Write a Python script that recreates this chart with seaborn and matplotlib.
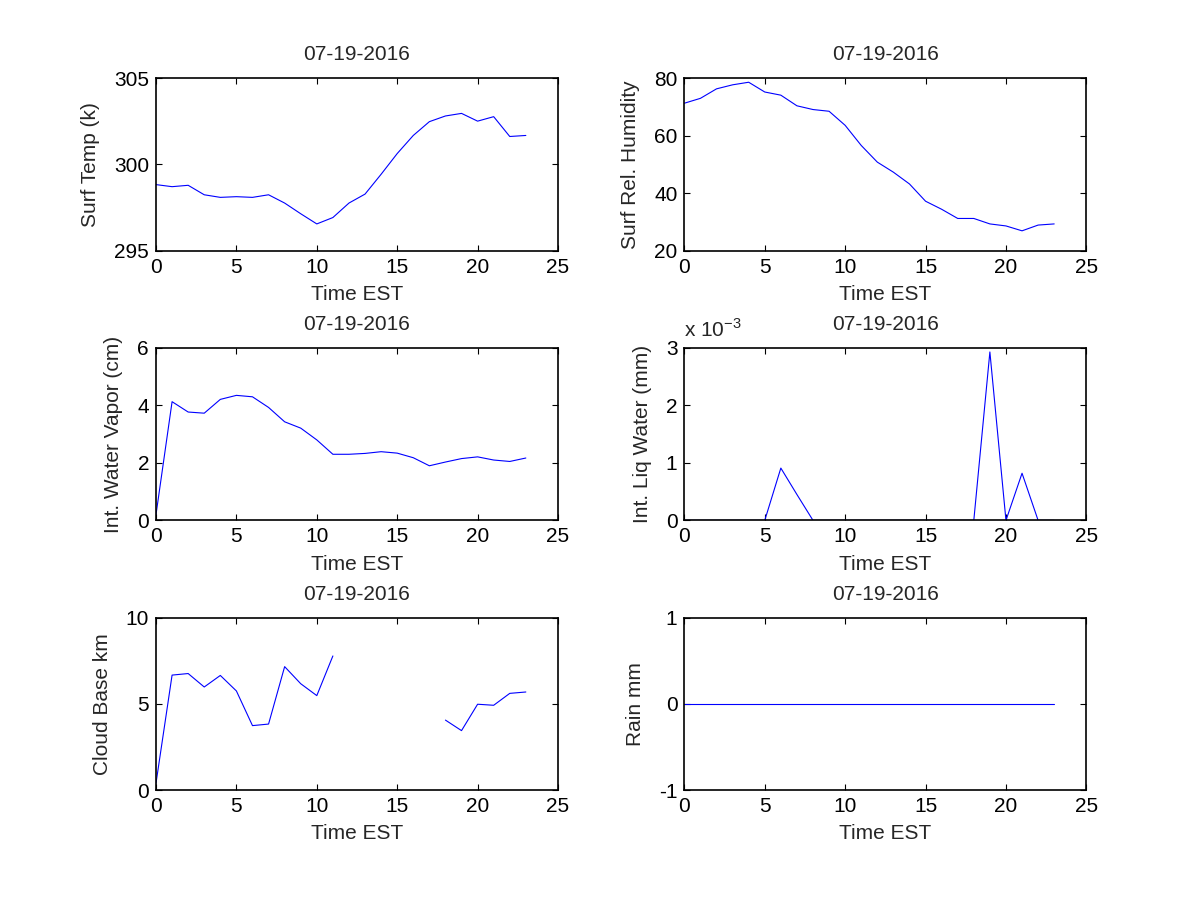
import matplotlib
matplotlib.use("Agg")
import matplotlib.pyplot as plt
import matplotlib.ticker as mticker
import numpy as np
import pandas as pd
import seaborn as sns

# hourly data, 07-19-2016
hours = np.arange(24)

surf_temp = [298.83, 298.71, 298.79, 298.24, 298.09, 298.13, 298.09, 298.24,
             297.76, 297.14, 296.55, 296.92, 297.76, 298.28, 299.43, 300.63,
             301.68, 302.48, 302.81, 302.96, 302.51, 302.77, 301.62, 301.68]

surf_rh = [71.3, 73.0, 76.3, 77.7, 78.6, 75.2, 74.1, 70.4, 69.1, 68.5, 63.6, 56.6,
           50.8, 47.3, 43.2, 37.2, 34.4, 31.2, 31.2, 29.3, 28.6, 26.9, 28.9, 29.3]

int_vapor = [0.2, 4.13, 3.77, 3.73, 4.21, 4.35, 4.30, 3.93, 3.43, 3.21, 2.80, 2.30,
             2.30, 2.33, 2.39, 2.34, 2.18, 1.90, 2.03, 2.15, 2.21, 2.10, 2.05, 2.17]

int_liq = [0, 0, 0, 0, 0, 0, 0.00091, 0.00045, 0, 0, 0, 0,
           0, 0, 0, 0, 0, 0, 0, 0.00293, 0, 0.00082, 0, 0]

cloud_base = [0.4, 6.67, 6.76, 5.98, 6.65, 5.75, 3.74, 3.83, 7.16, 6.17, 5.48, 7.78,
              np.nan, np.nan, np.nan, np.nan, np.nan, np.nan,
              4.06, 3.45, 4.98, 4.92, 5.61, 5.69]

rain = [0.0] * 24

title = "07-19-2016"
xlabel = "Time EST"

sns.set_style("ticks")
plt.rcParams["font.family"] = ["Liberation Sans", "DejaVu Sans"]
plt.rcParams["mathtext.fontset"] = "custom"
plt.rcParams["mathtext.rm"] = "Liberation Sans"
plt.rcParams["axes.unicode_minus"] = False
FS = 15

fig = plt.figure(figsize=(12, 9), dpi=100)
fig.patch.set_facecolor("white")

left_x = [0.13, 0.5703]
bottoms = [0.7215, 0.4218, 0.1221]
w, h = 0.335, 0.1916


def make_ax(col, row):
    ax = fig.add_axes([left_x[col], bottoms[row], w, h])
    ax.set_facecolor("white")
    for s in ax.spines.values():
        s.set_visible(True)
        s.set_linewidth(1.2)
        s.set_color("black")
    ax.tick_params(direction="in", length=4, width=0.8, top=True, right=True,
                   labelsize=FS, pad=5, colors="black")
    ax.set_xlim(0, 25)
    ax.set_xticks([0, 5, 10, 15, 20, 25])
    ax.set_title(title, fontsize=FS, pad=13)
    return ax


def draw(ax, x, y):
    df = pd.DataFrame({"hour": x, "val": y}).dropna()
    # split at gaps so missing hours stay empty
    seg = (df["hour"].diff() > 1).cumsum()
    for _, part in df.groupby(seg):
        sns.lineplot(data=part, x="hour", y="val", ax=ax, color="#0000ff",
                     linewidth=0.8, estimator=None, sort=False, zorder=1)


# Surface temperature
ax = make_ax(0, 0)
draw(ax, hours, surf_temp)
ax.set_ylim(295, 305)
ax.set_yticks([295, 300, 305])
ax.set_ylabel("Surf Temp (k)", fontsize=FS, labelpad=10)
ax.set_xlabel(xlabel, fontsize=FS, labelpad=6)

# Surface RH
ax = make_ax(1, 0)
draw(ax, hours, surf_rh)
ax.set_ylim(20, 80)
ax.set_yticks([20, 40, 60, 80])
ax.set_ylabel("Surf Rel. Humidity", fontsize=FS, labelpad=10)
ax.set_xlabel(xlabel, fontsize=FS, labelpad=6)

# Integrated water vapour
ax = make_ax(0, 1)
draw(ax, hours, int_vapor)
ax.set_ylim(0, 6)
ax.set_yticks([0, 2, 4, 6])
ax.set_ylabel("Int. Water Vapor (cm)", fontsize=FS, labelpad=10)
ax.set_xlabel(xlabel, fontsize=FS, labelpad=6)

# Integrated liquid water
ax = make_ax(1, 1)
draw(ax, hours, int_liq)
ax.set_ylim(0, 0.003)
ax.set_yticks([0, 0.001, 0.002, 0.003])
ax.yaxis.set_major_formatter(mticker.FuncFormatter(lambda v, p: f"{v * 1e3:g}"))
ax.set_ylabel("Int. Liq Water (mm)", fontsize=FS, labelpad=10)
ax.set_xlabel(xlabel, fontsize=FS, labelpad=6)
ax.text(0.0, 1.04, r"x 10$^{\mathregular{-3}}$", transform=ax.transAxes,
        fontsize=FS, ha="left", va="bottom")

# Cloud base
ax = make_ax(0, 2)
draw(ax, hours, cloud_base)
ax.set_ylim(0, 10)
ax.set_yticks([0, 5, 10])
ax.set_ylabel("Cloud Base km", fontsize=FS, labelpad=10)
ax.set_xlabel(xlabel, fontsize=FS, labelpad=6)

# Rain
ax = make_ax(1, 2)
draw(ax, hours, rain)
ax.set_ylim(-1, 1)
ax.set_yticks([-1, 0, 1])
ax.set_ylabel("Rain mm", fontsize=FS, labelpad=10)
ax.set_xlabel(xlabel, fontsize=FS, labelpad=6)

fig.savefig("out.png", dpi=100, facecolor="white")
